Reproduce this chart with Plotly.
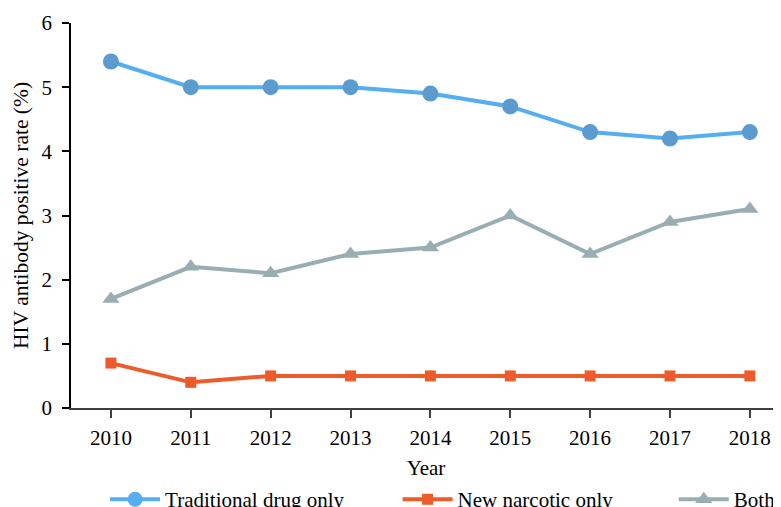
import plotly.graph_objects as go

years = [2010, 2011, 2012, 2013, 2014, 2015, 2016, 2017, 2018]
traditional = [5.4, 5.0, 5.0, 5.0, 4.9, 4.7, 4.3, 4.2, 4.3]
new_narcotic = [0.7, 0.4, 0.5, 0.5, 0.5, 0.5, 0.5, 0.5, 0.5]
both = [1.7, 2.2, 2.1, 2.4, 2.5, 3.0, 2.4, 2.9, 3.1]
names = ["Traditional drug only", "New narcotic only", "Both"]

FONT = "Liberation Serif, Times New Roman, serif"
FS = 21
blue_line = "#55AEF2"
blue_mark = "#5B9BD0"
orange = "#EE5B2B"
gray = "#98AEB3"

fig = go.Figure()
fig.add_trace(go.Scatter(x=years, y=traditional, mode="lines+markers", showlegend=False,
                         line=dict(color=blue_line, width=4),
                         marker=dict(symbol="circle", size=16, color=blue_mark)))
fig.add_trace(go.Scatter(x=years, y=new_narcotic, mode="lines+markers", showlegend=False,
                         line=dict(color=orange, width=4),
                         marker=dict(symbol="square", size=11, color=orange)))
fig.add_trace(go.Scatter(x=years, y=both, mode="lines+markers", showlegend=False,
                         line=dict(color=gray, width=4),
                         marker=dict(symbol="triangle-up", size=15, color=gray)))

# legend entries
leg_specs = [(names[0], blue_line, "circle", 15, "legend"),
             (names[1], orange, "square", 11, "legend2"),
             (names[2], gray, "triangle-up", 15, "legend3")]
for nm, col, sym, sz, lg in leg_specs:
    fig.add_trace(go.Scatter(x=[None], y=[None], mode="lines+markers", name=nm, legend=lg,
                             line=dict(color=col, width=4),
                             marker=dict(symbol=sym, size=sz, color=col)))

leg_common = dict(orientation="h", yanchor="middle", y=-0.238, xanchor="left",
                  font=dict(family=FONT, size=FS, color="#000"),
                  bgcolor="rgba(0,0,0,0)", itemwidth=50, tracegroupgap=0)

fig.update_layout(
    width=781, height=507,
    margin=dict(l=63, r=8, t=15, b=107, autoexpand=False),
    paper_bgcolor="white", plot_bgcolor="white",
    font=dict(family=FONT, size=FS, color="#000"),
    xaxis=dict(range=[2009.5, 2018.39], tickvals=years, ticktext=[str(y) for y in years],
               showgrid=False, zeroline=False, showline=True, linecolor="#404040", linewidth=1.5,
               ticks="outside", ticklen=8, tickcolor="#404040", tickwidth=1.5,
               ticklabelstandoff=2,
               tickfont=dict(family=FONT, size=FS, color="#000"),
               title=dict(text="Year", font=dict(family=FONT, size=FS, color="#000"), standoff=11)),
    yaxis=dict(range=[0, 6], dtick=1, tick0=0, showgrid=False, zeroline=False,
               showline=True, linecolor="#000", linewidth=1.5,
               ticks="outside", ticklen=7, tickcolor="#000", tickwidth=1.5,
               ticklabelstandoff=6,
               tickfont=dict(family=FONT, size=FS, color="#000"),
               title=dict(text="HIV antibody positive rate (%)",
                          font=dict(family=FONT, size=21.5, color="#000"), standoff=7)),
    legend=dict(x=0.048, **leg_common),
    legend2=dict(x=0.46, **leg_common),
    legend3=dict(x=0.849, **leg_common),
)

fig.write_html("out.html")
